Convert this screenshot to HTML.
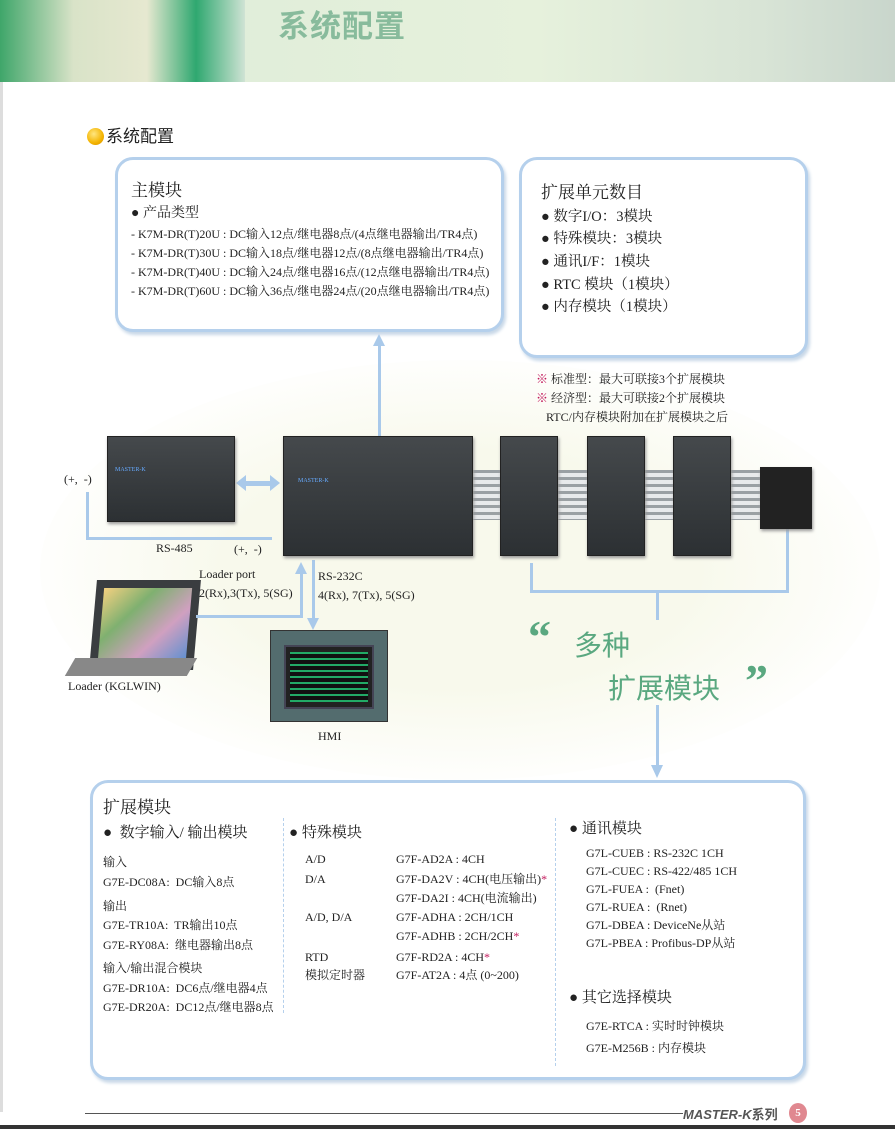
<!DOCTYPE html>
<html><head><meta charset="utf-8"><style>
*{margin:0;padding:0;box-sizing:border-box}
body{width:895px;height:1129px;position:relative;background:#fff;overflow:hidden;font-family:"Liberation Serif","Noto Serif CJK SC",serif;color:#222}
.a{position:absolute;white-space:nowrap}
.t{position:absolute;white-space:nowrap;font-size:12px;line-height:16px}
.box{position:absolute;border:3px solid #b5d0ec;border-radius:18px;background:#fff;box-shadow:2px 3px 3px #c8d8e8}
.ln{position:absolute;background:#a9c9ea}
.dev{position:absolute;background:linear-gradient(#45494c,#2c3033);border:1px solid #222;box-shadow:1px 2px 3px #999}
.b::before{content:"● ";}
.r{color:#c2185b}
</style></head><body>
<!-- header -->
<div class="a" style="left:0;top:0;width:895px;height:82px;background:linear-gradient(90deg,#dcebd8 0%,#e6f1dc 60%,#d8e4d6 85%,#c9d6cc 100%)"></div>
<div class="a" style="left:0;top:0;width:245px;height:82px;background:linear-gradient(90deg,#3fa66a 0%,#d9e3c8 30%,#e6e8d0 60%,#2fa870 80%,#cfe3d4 100%)"></div>
<div class="a" style="left:278px;top:4px;font-size:31px;line-height:40px;color:#88bb9c;font-family:'Noto Sans CJK SC',sans-serif;font-weight:bold;letter-spacing:1px">系统配置</div>
<div class="a" style="left:0;top:82px;width:3px;height:1030px;background:#ddd"></div>
<!-- section label -->
<div class="a" style="left:87px;top:128px;width:17px;height:17px;border-radius:50%;background:radial-gradient(circle at 40% 35%,#ffe680,#f4b400 60%,#d08a00)"></div>
<div class="a" style="left:106px;top:124px;font-size:17px;line-height:22px;font-family:'Noto Sans CJK SC',sans-serif">系统配置</div>
<!-- glow background -->
<div class="a" style="left:40px;top:360px;width:840px;height:420px;border-radius:50%;background:radial-gradient(ellipse,#f8f9ec 40%,#fff 75%)"></div>
<!-- box1 -->
<div class="box" style="left:115px;top:157px;width:389px;height:175px"></div>
<div class="a" style="left:131px;top:176px;font-size:17px">主模块</div>
<div class="a b" style="left:131px;top:202px;font-size:14px">产品类型</div>
<div class="t" style="left:131px;top:226px">- K7M-DR(T)20U : DC输入12点/继电器8点/(4点继电器输出/TR4点)</div>
<div class="t" style="left:131px;top:245px">- K7M-DR(T)30U : DC输入18点/继电器12点/(8点继电器输出/TR4点)</div>
<div class="t" style="left:131px;top:264px">- K7M-DR(T)40U : DC输入24点/继电器16点/(12点继电器输出/TR4点)</div>
<div class="t" style="left:131px;top:283px">- K7M-DR(T)60U : DC输入36点/继电器24点/(20点继电器输出/TR4点)</div>
<!-- box2 -->
<div class="box" style="left:519px;top:157px;width:289px;height:201px"></div>
<div class="a" style="left:541px;top:178px;font-size:17px">扩展单元数目</div>
<div class="a b" style="left:541px;top:207px;font-size:14.5px;line-height:20px">数字I/O：3模块</div>
<div class="a b" style="left:541px;top:229px;font-size:14.5px;line-height:20px">特殊模块：3模块</div>
<div class="a b" style="left:541px;top:252px;font-size:14.5px;line-height:20px">通讯I/F：1模块</div>
<div class="a b" style="left:541px;top:275px;font-size:14.5px;line-height:20px">RTC 模块（1模块）</div>
<div class="a b" style="left:541px;top:297px;font-size:14.5px;line-height:20px">内存模块（1模块）</div>
<div class="t" style="left:536px;top:371px"><span class="r">※</span> 标准型：最大可联接3个扩展模块</div>
<div class="t" style="left:536px;top:390px"><span class="r">※</span> 经济型：最大可联接2个扩展模块</div>
<div class="t" style="left:546px;top:409px">RTC/内存模块附加在扩展模块之后</div>
<!-- laptop -->
<div class="a" style="left:93px;top:580px;width:104px;height:90px;background:#3a3d40;transform:skewX(-5deg)"></div>
<div class="a" style="left:101px;top:588px;width:88px;height:72px;background:linear-gradient(135deg,#f4d080,#7fb070,#d0a0c0,#6090d0);transform:skewX(-5deg)"></div>
<div class="a" style="left:70px;top:658px;width:122px;height:18px;background:#888;transform:skewX(-30deg)"></div>
<!-- connectors -->
<div class="ln" style="left:378px;top:345px;width:3px;height:92px"></div>
<div class="a" style="left:373px;top:334px;border-left:6px solid transparent;border-right:6px solid transparent;border-bottom:12px solid #a9c9ea"></div>
<div class="ln" style="left:86px;top:492px;width:3px;height:47px"></div>
<div class="ln" style="left:86px;top:537px;width:186px;height:3px"></div>
<div class="ln" style="left:244px;top:481px;width:26px;height:5px"></div>
<div class="a" style="left:236px;top:475px;border-top:8px solid transparent;border-bottom:8px solid transparent;border-right:10px solid #a9c9ea"></div>
<div class="a" style="left:270px;top:475px;border-top:8px solid transparent;border-bottom:8px solid transparent;border-left:10px solid #a9c9ea"></div>
<div class="ln" style="left:300px;top:572px;width:3px;height:46px"></div>
<div class="ln" style="left:196px;top:615px;width:107px;height:3px"></div>
<div class="a" style="left:295px;top:562px;border-left:6px solid transparent;border-right:6px solid transparent;border-bottom:12px solid #a9c9ea"></div>
<div class="ln" style="left:312px;top:560px;width:3px;height:60px"></div>
<div class="a" style="left:307px;top:618px;border-left:6px solid transparent;border-right:6px solid transparent;border-top:12px solid #a9c9ea"></div>
<div class="ln" style="left:530px;top:563px;width:3px;height:30px"></div>
<div class="ln" style="left:530px;top:590px;width:259px;height:3px"></div>
<div class="ln" style="left:786px;top:520px;width:3px;height:73px"></div>
<div class="ln" style="left:656px;top:590px;width:3px;height:30px"></div>
<div class="ln" style="left:656px;top:705px;width:3px;height:62px"></div>
<div class="a" style="left:651px;top:765px;border-left:6px solid transparent;border-right:6px solid transparent;border-top:13px solid #a9c9ea"></div>
<!-- ribbon cables -->
<div class="a" style="left:470px;top:470px;width:295px;height:50px;background:repeating-linear-gradient(#9aa0a4 0,#9aa0a4 3px,#e8eaec 3px,#e8eaec 7px)"></div>
<!-- devices -->
<div class="dev" style="left:107px;top:436px;width:128px;height:86px"></div>
<div class="dev" style="left:283px;top:436px;width:190px;height:120px"></div>
<div class="dev" style="left:500px;top:436px;width:58px;height:120px"></div>
<div class="dev" style="left:587px;top:436px;width:58px;height:120px"></div>
<div class="dev" style="left:673px;top:436px;width:58px;height:120px"></div>
<div class="dev" style="left:760px;top:467px;width:52px;height:62px;background:#222"></div>
<div class="a" style="left:115px;top:467px;font-size:6px;color:#6af">MASTER-K</div>
<div class="a" style="left:298px;top:478px;font-size:6px;color:#6af">MASTER-K</div>
<!-- HMI -->
<div class="a" style="left:270px;top:630px;width:118px;height:92px;background:#536c6e;border:1px solid #333"></div>
<div class="a" style="left:284px;top:645px;width:90px;height:64px;background:#222;border:2px solid #445"></div>
<div class="a" style="left:290px;top:652px;width:78px;height:50px;background:repeating-linear-gradient(#2a6,#2a6 2px,#111 2px,#111 6px)"></div>
<!-- device labels -->
<div class="t" style="left:64px;top:471px">(+,&nbsp; -)</div>
<div class="t" style="left:156px;top:540px">RS-485</div>
<div class="t" style="left:234px;top:541px">(+,&nbsp; -)</div>
<div class="t" style="left:199px;top:566px">Loader port</div>
<div class="t" style="left:199px;top:585px">2(Rx),3(Tx), 5(SG)</div>
<div class="t" style="left:318px;top:568px">RS-232C</div>
<div class="t" style="left:318px;top:587px">4(Rx), 7(Tx), 5(SG)</div>
<div class="t" style="left:68px;top:678px">Loader (KGLWIN)</div>
<div class="t" style="left:318px;top:728px">HMI</div>
<!-- 多种扩展模块 -->
<div class="a" style="left:528px;top:612px;font-size:46px;line-height:50px;color:#5aa880;font-weight:bold">“</div>
<div class="a" style="left:574px;top:626px;font-size:28px;line-height:36px;color:#5aa880;font-family:'Noto Sans CJK SC',sans-serif">多种</div>
<div class="a" style="left:608px;top:667px;font-size:28px;line-height:40px;color:#5aa880;font-family:'Noto Sans CJK SC',sans-serif">扩展模块</div>
<div class="a" style="left:745px;top:656px;font-size:46px;line-height:50px;color:#5aa880;font-weight:bold">”</div>
<!-- bottom box -->
<div class="box" style="left:90px;top:780px;width:716px;height:300px"></div>
<div class="a" style="left:283px;top:818px;height:195px;border-left:1px dashed #b5d0ec"></div>
<div class="a" style="left:555px;top:818px;height:248px;border-left:1px dashed #b5d0ec"></div>
<div class="a" style="left:103px;top:797px;font-size:17px;line-height:22px">扩展模块</div>
<div class="a b" style="left:103px;top:823px;font-size:15px;line-height:20px">&nbsp;数字输入/ 输出模块</div>
<div class="t" style="left:103px;top:854px">输入</div>
<div class="t" style="left:103px;top:874px">G7E-DC08A:&nbsp; DC输入8点</div>
<div class="t" style="left:103px;top:898px">输出</div>
<div class="t" style="left:103px;top:917px">G7E-TR10A:&nbsp; TR输出10点</div>
<div class="t" style="left:103px;top:937px">G7E-RY08A:&nbsp; 继电器输出8点</div>
<div class="t" style="left:103px;top:960px">输入/输出混合模块</div>
<div class="t" style="left:103px;top:980px">G7E-DR10A:&nbsp; DC6点/继电器4点</div>
<div class="t" style="left:103px;top:999px">G7E-DR20A:&nbsp; DC12点/继电器8点</div>
<div class="a b" style="left:289px;top:823px;font-size:15px;line-height:20px">特殊模块</div>
<div class="t" style="left:305px;top:851px">A/D</div>
<div class="t" style="left:305px;top:871px">D/A</div>
<div class="t" style="left:305px;top:909px">A/D, D/A</div>
<div class="t" style="left:305px;top:949px">RTD</div>
<div class="t" style="left:305px;top:967px">模拟定时器</div>
<div class="t" style="left:396px;top:851px">G7F-AD2A : 4CH</div>
<div class="t" style="left:396px;top:871px">G7F-DA2V : 4CH(电压输出)<span class="r">*</span></div>
<div class="t" style="left:396px;top:890px">G7F-DA2I : 4CH(电流输出)</div>
<div class="t" style="left:396px;top:909px">G7F-ADHA : 2CH/1CH</div>
<div class="t" style="left:396px;top:928px">G7F-ADHB : 2CH/2CH<span class="r">*</span></div>
<div class="t" style="left:396px;top:949px">G7F-RD2A : 4CH<span class="r">*</span></div>
<div class="t" style="left:396px;top:967px">G7F-AT2A : 4点 (0~200)</div>
<div class="a b" style="left:569px;top:819px;font-size:15px;line-height:20px">通讯模块</div>
<div class="t" style="left:586px;top:845px">G7L-CUEB : RS-232C 1CH</div>
<div class="t" style="left:586px;top:863px">G7L-CUEC : RS-422/485 1CH</div>
<div class="t" style="left:586px;top:881px">G7L-FUEA :&nbsp; (Fnet)</div>
<div class="t" style="left:586px;top:899px">G7L-RUEA :&nbsp; (Rnet)</div>
<div class="t" style="left:586px;top:917px">G7L-DBEA : DeviceNe从站</div>
<div class="t" style="left:586px;top:935px">G7L-PBEA : Profibus-DP从站</div>
<div class="a b" style="left:569px;top:988px;font-size:15px;line-height:20px">其它选择模块</div>
<div class="t" style="left:586px;top:1018px">G7E-RTCA : 实时时钟模块</div>
<div class="t" style="left:586px;top:1040px">G7E-M256B : 内存模块</div>
<!-- footer -->
<div class="a" style="left:85px;top:1113px;width:598px;height:1px;background:#555"></div>
<div class="a" style="left:683px;top:1104px;font-size:13px;font-weight:bold;font-style:italic;color:#555;font-family:'Liberation Sans','Noto Sans CJK SC',sans-serif">MASTER-K<span style="font-style:normal">系列</span></div>
<div class="a" style="left:789px;top:1103px;width:18px;height:20px;border-radius:50%;background:#e08890;color:#fff;font-size:11px;text-align:center;line-height:20px;font-weight:bold">5</div>
<div class="a" style="left:0;top:1125px;width:895px;height:4px;background:#333"></div>
</body></html>
